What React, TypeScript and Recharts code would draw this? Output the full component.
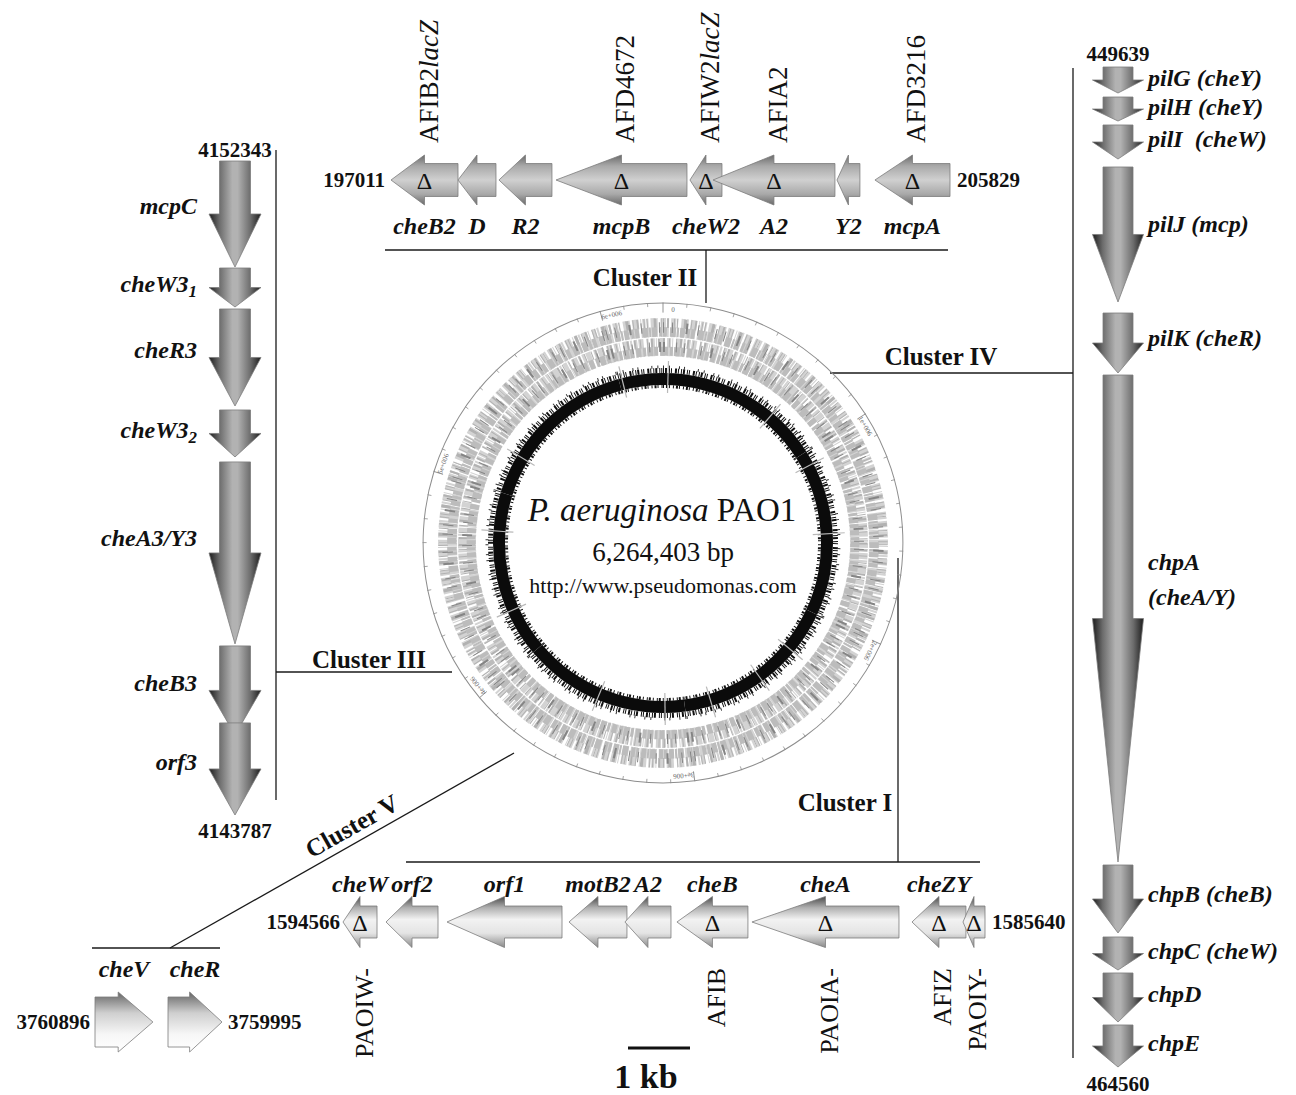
import React from "react";
import { BarChart, Bar, XAxis, YAxis, ReferenceDot, PieChart, Pie } from "recharts";

const SERIF = "'Liberation Serif', 'Times New Roman', 'DejaVu Serif', serif";

// ---------- Cluster II (197011 - 205829) ----------
const c2Genes = ["cheB2", "cheD2", "cheR2", "mcpB", "cheW2", "cheA2", "cheY2", "mcpA"];
const c2Labels = ["cheB2", "D", "R2", "mcpB", "cheW2", "A2", "Y2", "mcpA"];
const c2Start = [197011, 198068, 198714, 199614, 201727, 202090, 204046, 204645];
const c2End = [198068, 198667, 199550, 201680, 202232, 204014, 204408, 205829];
const c2Strand = ["-", "-", "-", "-", "-", "-", "-", "-"];
const c2Deleted = [true, false, false, true, true, true, false, true];
const c2Mutants = ["AFIB2lacZ", "", "", "AFD4672", "AFIW2lacZ", "AFIA2", "", "AFD3216"];

// ---------- Cluster I (1594566 - 1585640) ----------
const c1Genes = ["cheW", "orf2", "orf1", "motB2", "motA2", "cheB", "cheA", "cheZ", "cheY"];
const c1Labels = ["cheW", "orf2", "orf1", "motB2", "A2", "cheB", "cheA", "cheZY", ""];
const c1Start = [1594093, 1593245, 1591521, 1590618, 1590006, 1588936, 1586836, 1585905, 1585640];
const c1End = [1594566, 1593968, 1593120, 1591424, 1590646, 1589923, 1588880, 1586655, 1585946];
const c1Strand = ["+", "+", "+", "+", "+", "+", "+", "+", "+"];
const c1Deleted = [true, false, false, false, false, true, true, true, true];
const c1Mutants = ["PAOIW-", "", "", "", "", "AFIB", "PAOIA-", "AFIZ", "PAOIY-"];

// ---------- Cluster V (3760896 - 3759995) ----------
const c5Genes = ["cheV", "cheR"];
const c5Start = [3760485, 3759995];
const c5End = [3760896, 3760378];
const c5Strand = ["-", "-"];

// ---------- Cluster III (4152343 - 4143787) ----------
const c3Genes = ["mcpC", "cheW3_1", "cheR3", "cheW3_2", "cheA3/Y3", "cheB3", "orf3"];
const c3Start = [4150956, 4150433, 4149138, 4148471, 4146025, 4144835, 4143787];
const c3End = [4152343, 4150943, 4150407, 4149086, 4148406, 4145999, 4144992];
const c3Strand = ["-", "-", "-", "-", "-", "-", "-"];

// ---------- Cluster IV (449639 - 464560) ----------
const c4Genes = ["pilG", "pilH", "pilI", "pilJ", "pilK", "chpA", "chpB", "chpC", "chpD", "chpE"];
const c4Labels = ["pilG (cheY)", "pilH (cheY)", "pilI  (cheW)", "pilJ (mcp)", "pilK (cheR)", "chpA\n(cheA/Y)", "chpB (cheB)", "chpC (cheW)", "chpD", "chpE"];
const c4Start = [449639, 450087, 450504, 451131, 453310, 454235, 461546, 462620, 463157, 463933];
const c4End = [450027, 450445, 451012, 453145, 454205, 461501, 462560, 463113, 463889, 464560];
const c4Strand = ["+", "+", "+", "+", "+", "+", "+", "+", "+", "+"];

// ---------- genome circle ----------
const genomeLength = 6264403;
const genomeTickLabels = ["0", "1e+006", "2e+006", "3e+006", "4e+006", "5e+006", "6e+006"];
const genomeSegments = [1000000, 1000000, 1000000, 1000000, 1000000, 1000000, 264403];
const gcSpikesMb = [0.03, 0.7, 1.08, 1.51, 2.26, 2.51, 2.84, 3.12, 3.53, 4.28, 4.77, 5.24, 6.02];

type Gene = { name: string; label: string; span: [number, number]; strand: string; ko: boolean; mutant: string; lane: number };

function buildGenes(names: string[], labels: string[], starts: number[], ends: number[], strands: string[], ko?: boolean[], mutants?: string[]): Gene[] {
  return names.map((name, i) => ({
    name,
    label: labels[i],
    span: [starts[i], ends[i]],
    strand: strands[i],
    ko: ko ? ko[i] : false,
    mutant: mutants ? mutants[i] : "",
    lane: 0,
  }));
}

const genome = genomeSegments.map((size, i) => ({
  label: genomeTickLabels[i],
  size,
  from: genomeSegments.slice(0, i).reduce((a, b) => a + b, 0),
}));

type End = { at: number; pos: "left" | "right" | "top" | "bottom"; off: number };
type Track = {
  key: string;
  genes: Gene[];
  domain: [number, number];
  reversed: boolean;
  horizontal: boolean;
  left: number;
  top: number;
  width: number;
  height: number;
  head: number;
  body: number;
  headFrac: number;
  fill: string;
  nameOffset: number;
  nameAt: number;
  mutantOffset: number;
  mutantSize: number;
  ends: End[];
};

const tracks: Track[] = [
  {
    key: "II", genes: buildGenes(c2Genes, c2Labels, c2Start, c2End, c2Strand, c2Deleted, c2Mutants),
    domain: [197011, 205829], reversed: false, horizontal: true,
    left: 391, top: 150, width: 559, height: 60, head: 25, body: 16.5, headFrac: 0.5, fill: "url(#gII)",
    nameOffset: 46, nameAt: 0.5, mutantOffset: -37, mutantSize: 27,
    ends: [{ at: 197011, pos: "left", off: 6 }, { at: 205829, pos: "right", off: 7 }],
  },
  {
    key: "I", genes: buildGenes(c1Genes, c1Labels, c1Start, c1End, c1Strand, c1Deleted, c1Mutants),
    domain: [1585640, 1594566], reversed: true, horizontal: true,
    left: 343, top: 892, width: 642, height: 60, head: 25.5, body: 16, headFrac: 0.5, fill: "url(#gI)",
    nameOffset: -38, nameAt: 0.5, mutantOffset: 46, mutantSize: 26,
    ends: [{ at: 1594566, pos: "left", off: 3 }, { at: 1585640, pos: "right", off: 7 }],
  },
  {
    key: "V", genes: buildGenes(c5Genes, c5Genes, c5Start, c5End, c5Strand),
    domain: [3759995, 3760896], reversed: true, horizontal: true,
    left: 95, top: 992, width: 127, height: 60, head: 30, body: 25, headFrac: 0.6, fill: "url(#gV)",
    nameOffset: -53, nameAt: 0.5, mutantOffset: 0, mutantSize: 26,
    ends: [{ at: 3760896, pos: "left", off: 5 }, { at: 3759995, pos: "right", off: 6 }],
  },
  {
    key: "III", genes: buildGenes(c3Genes, c3Genes, c3Start, c3End, c3Strand),
    domain: [4143787, 4152343], reversed: false, horizontal: false,
    left: 205, top: 161, width: 60, height: 654, head: 26, body: 15.5, headFrac: 0.5, fill: "url(#gS)",
    nameOffset: -38, nameAt: 0.42, mutantOffset: 0, mutantSize: 26,
    ends: [{ at: 4152343, pos: "top", off: 4 }, { at: 4143787, pos: "bottom", off: 8 }],
  },
  {
    key: "IV", genes: buildGenes(c4Genes, c4Labels, c4Start, c4End, c4Strand),
    domain: [449639, 464560], reversed: true, horizontal: false,
    left: 1088, top: 67, width: 60, height: 1000, head: 25.5, body: 15, headFrac: 0.5, fill: "url(#gS)",
    nameOffset: 30, nameAt: 0.42, mutantOffset: 0, mutantSize: 26,
    ends: [{ at: 449639, pos: "top", off: 6 }, { at: 464560, pos: "bottom", off: 9 }],
  },
];

const nameStyle = { fontFamily: SERIF, fontWeight: 700, fontStyle: "italic", fontSize: 24, fill: "#111", whiteSpace: "pre" } as const;

function nameContent(label: string) {
  const parts = label.split("_");
  if (parts.length === 2) {
    return [parts[0], <tspan key="sub" dy={7} fontSize={17}>{parts[1]}</tspan>];
  }
  return label;
}

function mutantContent(label: string) {
  if (label.endsWith("lacZ")) {
    return [label.slice(0, -4), <tspan key="lac" fontStyle="italic">lacZ</tspan>];
  }
  return label;
}

function drawGene(p: any, t: Track) {
  const { x, y, width, height, payload } = p;
  if ([x, y, width, height].some((v) => v == null || Number.isNaN(v))) return <g />;
  const hz = t.horizontal;
  const a0 = hz ? Math.min(x, x + width) : Math.min(y, y + height);
  const a1 = hz ? Math.max(x, x + width) : Math.max(y, y + height);
  const c = hz ? y + height / 2 : x + width / 2;
  const incMax = hz ? !t.reversed : t.reversed;
  const headAtMax = (payload.strand === "+") === incMax;
  const s = headAtMax ? 1 : -1;
  const tip = headAtMax ? a1 : a0;
  const tail = headAtMax ? a0 : a1;
  const len = a1 - a0;
  const base = tip - s * len * t.headFrac;
  const P = (a: number, b: number) => (hz ? `${a},${c + b}` : `${c + b},${a}`);
  const pts = [
    P(tail, -t.body), P(base, -t.body), P(base, -t.head), P(tip, 0),
    P(base, t.head), P(base, t.body), P(tail, t.body),
  ].join(" ");

  const lines: string[] = payload.label ? payload.label.split("\n") : [];
  let names: React.ReactNode = null;
  if (lines.length) {
    if (hz) {
      names = (
        <text x={(a0 + a1) / 2} y={c + t.nameOffset} textAnchor="middle" dominantBaseline="central" style={nameStyle}>
          {nameContent(lines[0])}
        </text>
      );
    } else {
      const ny = tail + s * len * t.nameAt;
      names = lines.map((ln, i) => (
        <text key={i} x={c + t.nameOffset} y={ny + (i - (lines.length - 1) / 2) * 35}
          textAnchor={t.nameOffset < 0 ? "end" : "start"} dominantBaseline="central" style={nameStyle}>
          {nameContent(ln)}
        </text>
      ));
    }
  }

  return (
    <g>
      <polygon points={pts} fill={t.fill} stroke="#7c7c7c" strokeWidth={0.8} strokeLinejoin="round" />
      {payload.ko && hz && (
        <text x={base} y={c + 1} textAnchor="middle" dominantBaseline="central" fontFamily={SERIF} fontSize={24} fill="#111">Δ</text>
      )}
      {payload.mutant && hz && (
        <text transform={`translate(${base + 4},${c + t.mutantOffset}) rotate(-90)`}
          textAnchor={t.mutantOffset < 0 ? "start" : "end"} dominantBaseline="central"
          fontFamily={SERIF} fontSize={t.mutantSize} fill="#111">
          {mutantContent(payload.mutant)}
        </text>
      )}
      {names}
    </g>
  );
}

const endLabel = (e: End) => ({
  value: String(e.at),
  position: e.pos,
  offset: e.off,
  fill: "#111",
  fontSize: 21,
  fontWeight: 700,
  fontFamily: SERIF,
});

function GeneTrack({ t }: { t: Track }) {
  const shape = (p: any) => drawGene(p, t);
  const margin = { top: 0, right: 0, bottom: 0, left: 0 };
  return (
    <div style={{ position: "absolute", left: t.left, top: t.top }}>
      {t.horizontal ? (
        <BarChart layout="vertical" width={t.width} height={t.height} data={t.genes} margin={margin}>
          <XAxis type="number" domain={t.domain} reversed={t.reversed} hide />
          <YAxis type="number" dataKey="lane" domain={[-1, 1]} hide />
          <Bar dataKey="span" isAnimationActive={false} shape={shape} />
          {t.ends.map((e) => (
            <ReferenceDot key={e.at} x={e.at} y={0} r={0} fill="none" stroke="none" label={endLabel(e)} />
          ))}
        </BarChart>
      ) : (
        <BarChart width={t.width} height={t.height} data={t.genes} margin={margin}>
          <XAxis type="number" dataKey="lane" domain={[-1, 1]} hide />
          <YAxis type="number" domain={t.domain} reversed={t.reversed} hide />
          <Bar dataKey="span" isAnimationActive={false} shape={shape} />
          {t.ends.map((e) => (
            <ReferenceDot key={e.at} x={0} y={e.at} r={0} fill="none" stroke="none" label={endLabel(e)} />
          ))}
        </BarChart>
      )}
    </div>
  );
}

// ---------- circle helpers ----------
const RAD = Math.PI / 180;
const polar = (cx: number, cy: number, r: number, a: number) => ({ x: cx + r * Math.cos(-a * RAD), y: cy + r * Math.sin(-a * RAD) });
function arcPath(cx: number, cy: number, r: number, a0: number, a1: number) {
  const p0 = polar(cx, cy, r, a0);
  const p1 = polar(cx, cy, r, a1);
  const large = Math.abs(a1 - a0) > 180 ? 1 : 0;
  const sweep = a0 > a1 ? 1 : 0;
  return `M${p0.x},${p0.y} A${r},${r} 0 ${large} ${sweep} ${p1.x},${p1.y}`;
}

function renderScale(p: any) {
  const { cx, cy, startAngle, endAngle, payload, outerRadius } = p;
  const per = (endAngle - startAngle) / payload.size;
  const ticks = [];
  for (let b = 100000; b < payload.size; b += 100000) {
    const a = startAngle + b * per;
    const q0 = polar(cx, cy, outerRadius, a);
    const q1 = polar(cx, cy, outerRadius - 4, a);
    ticks.push(<line key={b} x1={q0.x} y1={q0.y} x2={q1.x} y2={q1.y} stroke="#8d8d8d" strokeWidth={0.8} />);
  }
  const m0 = polar(cx, cy, outerRadius, startAngle);
  const m1 = polar(cx, cy, outerRadius - 10, startAngle);
  const la = startAngle - 2.5;
  const lp = polar(cx, cy, outerRadius - 7, la);
  return (
    <g>
      {ticks}
      <line x1={m0.x} y1={m0.y} x2={m1.x} y2={m1.y} stroke="#777" strokeWidth={0.8} />
      <text transform={`translate(${lp.x},${lp.y}) rotate(${90 - la})`} textAnchor="middle" dominantBaseline="central"
        fontFamily={SERIF} fontSize={7} fill="#666">{payload.label}</text>
    </g>
  );
}

function renderGeneBand(p: any, variant: number) {
  const { cx, cy, startAngle, endAngle, innerRadius, outerRadius } = p;
  const w = outerRadius - innerRadius;
  const r = (innerRadius + outerRadius) / 2;
  const rIn = innerRadius + w * 0.27;
  const rOut = outerRadius - w * 0.27;
  const dA = variant ? "3 1 2 2 5 1 1 3 4 1 2 2 6 2 1 1" : "2 2 4 1 1 3 6 1 2 2 3 1 5 3";
  const dB = variant ? "1 3 2 5 1 2 1 6 3 4" : "2 4 1 6 1 3 2 5";
  const dC = variant ? "1 8 1 13 2 10 1 17" : "2 11 1 7 1 16 1 9";
  return (
    <g>
      <path d={arcPath(cx, cy, r, startAngle, endAngle)} stroke="#d3d3d3" strokeWidth={w} fill="none" strokeDasharray={dA} />
      <path d={arcPath(cx, cy, rOut, startAngle, endAngle)} stroke="#b2b2b2" strokeWidth={w * 0.5} fill="none" strokeDasharray={dB} />
      <path d={arcPath(cx, cy, rIn, startAngle, endAngle)} stroke="#bcbcbc" strokeWidth={w * 0.5} fill="none" strokeDasharray={dB.split(" ").reverse().join(" ")} />
      <path d={arcPath(cx, cy, r, startAngle, endAngle)} stroke="#858585" strokeWidth={w * 0.55} fill="none" strokeDasharray={dC} />
    </g>
  );
}

function renderGc(p: any) {
  const { cx, cy, startAngle, endAngle, innerRadius, outerRadius, payload } = p;
  const per = (endAngle - startAngle) / payload.size;
  const spikes = gcSpikesMb
    .map((mb) => mb * 1e6 - payload.from)
    .filter((b) => b >= 0 && b < payload.size)
    .map((b, i) => {
      const a = startAngle + b * per;
      const q0 = polar(cx, cy, innerRadius - 8, a);
      const q1 = polar(cx, cy, outerRadius + 12, a);
      return <line key={i} x1={q0.x} y1={q0.y} x2={q1.x} y2={q1.y} stroke="#b9b9b9" strokeWidth={1.2} />;
    });
  return (
    <g>
      <path d={arcPath(cx, cy, outerRadius + 2.5, startAngle, endAngle)} stroke="#111" strokeWidth={5} fill="none" strokeDasharray="1 1 2 2 1 1 1 3 2 1 1 2" />
      <path d={arcPath(cx, cy, outerRadius + 6, startAngle, endAngle)} stroke="#333" strokeWidth={3} fill="none" strokeDasharray="1 5 1 9 1 4 1 13" />
      <path d={arcPath(cx, cy, innerRadius - 1.5, startAngle, endAngle)} stroke="#111" strokeWidth={3} fill="none" strokeDasharray="1 2 2 1 1 3" />
      {spikes}
    </g>
  );
}

function GenomeCircle() {
  const common = {
    data: genome, dataKey: "size", nameKey: "label", cx: "50%", cy: "50%",
    startAngle: 90, endAngle: -270, stroke: "none", isAnimationActive: false, labelLine: false,
  };
  return (
    <div style={{ position: "absolute", left: 393, top: 273 }}>
      <PieChart width={540} height={540} margin={{ top: 0, right: 0, bottom: 0, left: 0 }}>
        <Pie {...common} innerRadius={239.4} outerRadius={240.4} fill="#8d8d8d" label={renderScale} />
        <Pie {...common} innerRadius={206} outerRadius={225} fill="none" label={(p: any) => renderGeneBand(p, 1)} />
        <Pie {...common} innerRadius={187} outerRadius={205} fill="none" label={(p: any) => renderGeneBand(p, 0)} />
        <Pie {...common} innerRadius={158} outerRadius={170} fill="#0b0b0b" label={renderGc} />
      </PieChart>
    </div>
  );
}

function Overlay() {
  const connectors = [
    [385, 250, 948, 250], [706, 250, 706, 303],
    [1073, 68, 1073, 1058], [830, 373, 1073, 373],
    [276, 150, 276, 800], [276, 672, 452, 672],
    [406, 862, 980, 862], [898, 558, 898, 862],
    [92, 948, 220, 948], [170, 948, 514, 753],
  ];
  const clusterText = { fontFamily: SERIF, fontWeight: 700, fontSize: 25, fill: "#111" };
  return (
    <svg width={1296} height={1095} style={{ position: "absolute", left: 0, top: 0 }}>
      <defs>
        <linearGradient id="gII" x1="0" y1="0" x2="0" y2="1">
          <stop offset="0" stopColor="#6a6a6a" />
          <stop offset="0.22" stopColor="#a9a9a9" />
          <stop offset="0.5" stopColor="#d0d0d0" />
          <stop offset="0.78" stopColor="#a9a9a9" />
          <stop offset="1" stopColor="#6a6a6a" />
        </linearGradient>
        <linearGradient id="gI" x1="0" y1="0" x2="0" y2="1">
          <stop offset="0" stopColor="#484848" />
          <stop offset="0.22" stopColor="#b0b0b0" />
          <stop offset="0.45" stopColor="#f2f2f2" />
          <stop offset="0.72" stopColor="#e4e4e4" />
          <stop offset="1" stopColor="#8a8a8a" />
        </linearGradient>
        <linearGradient id="gV" x1="0" y1="0" x2="0" y2="1">
          <stop offset="0" stopColor="#646464" />
          <stop offset="0.35" stopColor="#cfcfcf" />
          <stop offset="0.7" stopColor="#f6f6f6" />
          <stop offset="1" stopColor="#ffffff" />
        </linearGradient>
        <linearGradient id="gS" x1="0" y1="0" x2="1" y2="0">
          <stop offset="0" stopColor="#1c1c1c" />
          <stop offset="0.2" stopColor="#6c6c6c" />
          <stop offset="0.45" stopColor="#b2b2b2" />
          <stop offset="0.55" stopColor="#b2b2b2" />
          <stop offset="0.8" stopColor="#6c6c6c" />
          <stop offset="1" stopColor="#1c1c1c" />
        </linearGradient>
      </defs>
      {connectors.map(([x1, y1, x2, y2], i) => (
        <line key={i} x1={x1} y1={y1} x2={x2} y2={y2} stroke="#1a1a1a" strokeWidth={1.3} />
      ))}
      <text x={645} y={277} textAnchor="middle" dominantBaseline="central" style={clusterText}>Cluster II</text>
      <text x={941} y={356} textAnchor="middle" dominantBaseline="central" style={clusterText}>Cluster IV</text>
      <text x={369} y={659} textAnchor="middle" dominantBaseline="central" style={clusterText}>Cluster III</text>
      <text x={845} y={802} textAnchor="middle" dominantBaseline="central" style={clusterText}>Cluster I</text>
      <text transform="translate(352,826) rotate(-29.5)" textAnchor="middle" dominantBaseline="central" style={clusterText}>Cluster V</text>

      <text x={662} y={510} textAnchor="middle" dominantBaseline="central" fontFamily={SERIF} fontSize={33} fill="#111">
        <tspan fontStyle="italic">P. aeruginosa</tspan> PAO1
      </text>
      <text x={663} y={552} textAnchor="middle" dominantBaseline="central" fontFamily={SERIF} fontSize={27} fill="#111">
        {genomeLength.toLocaleString("en-US")} bp
      </text>
      <text x={663} y={585} textAnchor="middle" dominantBaseline="central" fontFamily={SERIF} fontSize={22} fill="#111">
        http://www.pseudomonas.com
      </text>

      <line x1={628} y1={1048} x2={690} y2={1048} stroke="#111" strokeWidth={3} />
      <text x={646} y={1076} textAnchor="middle" dominantBaseline="central" fontFamily={SERIF} fontWeight={700} fontSize={34} fill="#111">1 kb</text>
    </svg>
  );
}

export default function App() {
  return (
    <div style={{ position: "absolute", left: 0, top: 0, width: 1296, height: 1095, background: "#fff", overflow: "hidden" }}>
      <style>{`.recharts-wrapper, .recharts-surface { overflow: visible !important; }`}</style>
      <Overlay />
      <GenomeCircle />
      {tracks.map((t) => (
        <GeneTrack key={t.key} t={t} />
      ))}
    </div>
  );
}
